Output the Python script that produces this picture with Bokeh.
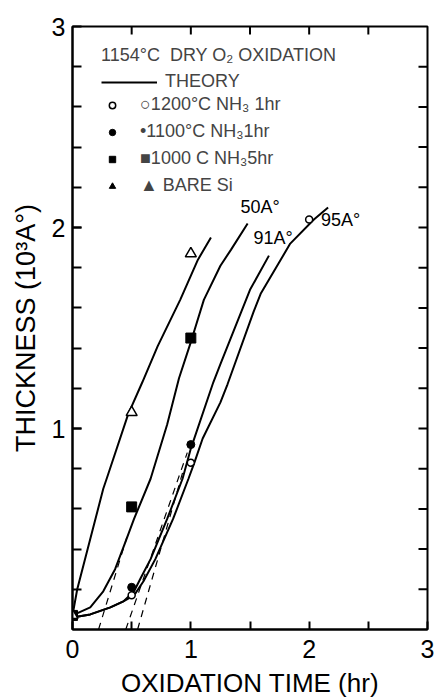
import numpy as np
from bokeh.plotting import figure
from bokeh.models import FixedTicker, Legend, LegendItem, Label, Range1d
from bokeh.embed import file_html
from bokeh.resources import INLINE

FONT = "Liberation Sans"

# ---- measured points (oxidation time hr, thickness 10^3 A) ----
bare_t = [0.0, 0.5, 1.0]
bare_y = [0.07, 1.08, 1.87]
n1000_t = [0.0, 0.5, 1.0]
n1000_y = [0.07, 0.61, 1.45]
n1100_t = [0.0, 0.5, 1.0]
n1100_y = [0.07, 0.21, 0.92]
n1200_t = [0.0, 0.5, 1.0, 2.0]
n1200_y = [0.07, 0.17, 0.83, 2.04]

# ---- theory curves ----
th_bare_t = [0.0, 0.04, 0.15, 0.26, 0.30, 0.47, 0.59, 0.72, 0.91, 1.06, 1.17]
th_bare_y = [0.07, 0.20, 0.45, 0.70, 0.77, 1.07, 1.23, 1.41, 1.64, 1.84, 1.95]
th_50_t = [0.0, 0.15, 0.26, 0.36, 0.45, 0.52, 0.66, 0.80, 0.90, 1.0, 1.11, 1.25, 1.34, 1.48]
th_50_y = [0.07, 0.11, 0.19, 0.30, 0.44, 0.55, 0.75, 1.02, 1.25, 1.43, 1.64, 1.81, 1.89, 2.02]
th_91_t = [0.0, 0.15, 0.32, 0.43, 0.52, 0.58, 0.66, 0.80, 0.93, 1.0, 1.19, 1.25, 1.50, 1.66]
th_91_y = [0.06, 0.075, 0.11, 0.14, 0.19, 0.26, 0.35, 0.55, 0.75, 0.90, 1.23, 1.32, 1.69, 1.86]
th_95_t = [0.0, 0.15, 0.32, 0.43, 0.52, 0.60, 0.70, 0.85, 0.98, 1.03, 1.10, 1.25, 1.31, 1.53, 1.59, 1.84, 2.04, 2.16]
th_95_y = [0.06, 0.075, 0.11, 0.14, 0.17, 0.24, 0.35, 0.55, 0.75, 0.83, 0.95, 1.13, 1.22, 1.58, 1.67, 1.92, 2.04, 2.10]

# ---- dashed linear extrapolations ----
dash_a_t = [0.22, 0.46]
dash_a_y = [0.0, 0.46]
dash_b_t = [0.45, 0.97]
dash_b_y = [0.0, 0.88]
dash_c_t = [0.55, 0.93]
dash_c_y = [0.0, 0.78]

x_major = [0, 1, 2, 3]
x_minor = [0.5, 1.5, 2.5]
y_major = [1, 2, 3]
y_minor = [round(v, 1) for v in np.arange(0.2, 3.0, 0.2)]
top_ticks = [0.5, 1.0, 1.5, 2.0, 2.5]
right_ticks = [round(v, 1) for v in np.arange(0.2, 3.0, 0.2)]
x_max = 3.0
y_max = 3.0

curve_labels = ["50A°", "91A°", "95A°"]
curve_label_t = [1.42, 1.53, 2.10]
curve_label_y = [2.05, 1.90, 1.99]

p = figure(width=434, height=700, output_backend="svg", toolbar_location=None,
           x_range=Range1d(0, x_max), y_range=Range1d(0, y_max),
           min_border_left=72, min_border_right=7, min_border_top=26, min_border_bottom=69)
p.outline_line_color = "black"
p.outline_line_width = 2
p.grid.visible = False


def style_axis(ax, tick_len):
    ax.axis_line_width = 2
    ax.axis_line_color = "black"
    ax.major_tick_line_width = 2
    ax.minor_tick_line_width = 2
    ax.major_tick_in = tick_len
    ax.major_tick_out = 0
    ax.minor_tick_in = tick_len
    ax.minor_tick_out = 0
    ax.major_label_text_font = FONT
    ax.major_label_text_color = "black"
    ax.axis_label_text_font = FONT
    ax.axis_label_text_font_style = "normal"
    ax.axis_label_text_color = "black"


xa = p.xaxis[0]
xa.ticker = FixedTicker(ticks=x_major, minor_ticks=x_minor)
style_axis(xa, 8)
xa.major_label_text_font_size = "25px"
xa.major_label_standoff = 10
xa.axis_label = "OXIDATION TIME (hr)"
xa.axis_label_text_font_size = "26px"
xa.axis_label_standoff = 7

ya = p.yaxis[0]
ya.ticker = FixedTicker(ticks=y_major, minor_ticks=y_minor)
style_axis(ya, 9)
ya.major_label_text_font_size = "25px"
ya.major_label_standoff = 7
ya.axis_label = "THICKNESS (10³A°)"
ya.axis_label_text_font_size = "27px"
ya.axis_label_standoff = 8

# inward ticks on the top and right frame edges
p.ray(x=top_ticks, y=[y_max] * len(top_ticks), length=8, length_units="screen",
      angle=-np.pi / 2, line_color="black", line_width=2)
p.ray(x=[x_max] * len(right_ticks), y=right_ticks, length=9, length_units="screen",
      angle=np.pi, line_color="black", line_width=2)

# theory lines
lw = 2
r_theory = p.line(th_bare_t, th_bare_y, line_color="black", line_width=lw)
p.line(th_50_t, th_50_y, line_color="black", line_width=lw)
p.line(th_91_t, th_91_y, line_color="black", line_width=lw)
p.line(th_95_t, th_95_y, line_color="black", line_width=lw)

for dt, dy in [(dash_a_t, dash_a_y), (dash_b_t, dash_b_y), (dash_c_t, dash_c_y)]:
    p.line(dt, dy, line_color="black", line_width=1.2, line_dash="7 6")

# data markers
r_1200 = p.scatter(n1200_t, n1200_y, marker="circle", size=7, fill_color="white",
                   line_color="black", line_width=1.5)
r_1100 = p.scatter(n1100_t, n1100_y, marker="circle", size=8, fill_color="black",
                   line_color="black")
r_1000 = p.scatter(n1000_t, n1000_y, marker="square", size=10, fill_color="black",
                   line_color="black")
p.scatter(bare_t, bare_y, marker="triangle", size=11, fill_color="white",
          line_color="black", line_width=1.5)
r_tri_leg = p.scatter([np.nan], [np.nan], marker="triangle", size=10, fill_color="black",
                      line_color="black")

for txt, lt, ly in zip(curve_labels, curve_label_t, curve_label_y):
    p.add_layout(Label(x=lt, y=ly, text=txt, text_font=FONT, text_font_size="18px",
                       text_color="black"))

# legends
leg_t = Legend(items=[LegendItem(label="THEORY", renderers=[r_theory])],
               title="1154°C  DRY O₂ OXIDATION", location=(29, 537),
               glyph_width=56, glyph_height=20, label_height=20, label_standoff=8,
               padding=0, margin=0, spacing=0, title_standoff=5,
               border_line_color=None, background_fill_alpha=0,
               title_text_font=FONT, title_text_font_size="18px", title_text_font_style="normal",
               label_text_font=FONT, label_text_font_size="18px")
leg_m = Legend(items=[LegendItem(label="○1200°C NH₃ 1hr", renderers=[r_1200]),
                      LegendItem(label="•1100°C NH₃1hr", renderers=[r_1100]),
                      LegendItem(label="■1000 C NH₃5hr", renderers=[r_1000]),
                      LegendItem(label="▲ BARE Si", renderers=[r_tri_leg])],
               location=(32, 433),
               glyph_width=16, glyph_height=20, label_height=20, label_standoff=20,
               padding=0, margin=0, spacing=6,
               border_line_color=None, background_fill_alpha=0,
               label_text_font=FONT, label_text_font_size="18px")
p.add_layout(leg_t, "center")
p.add_layout(leg_m, "center")

open("out.html", "w").write(file_html(p, INLINE))
